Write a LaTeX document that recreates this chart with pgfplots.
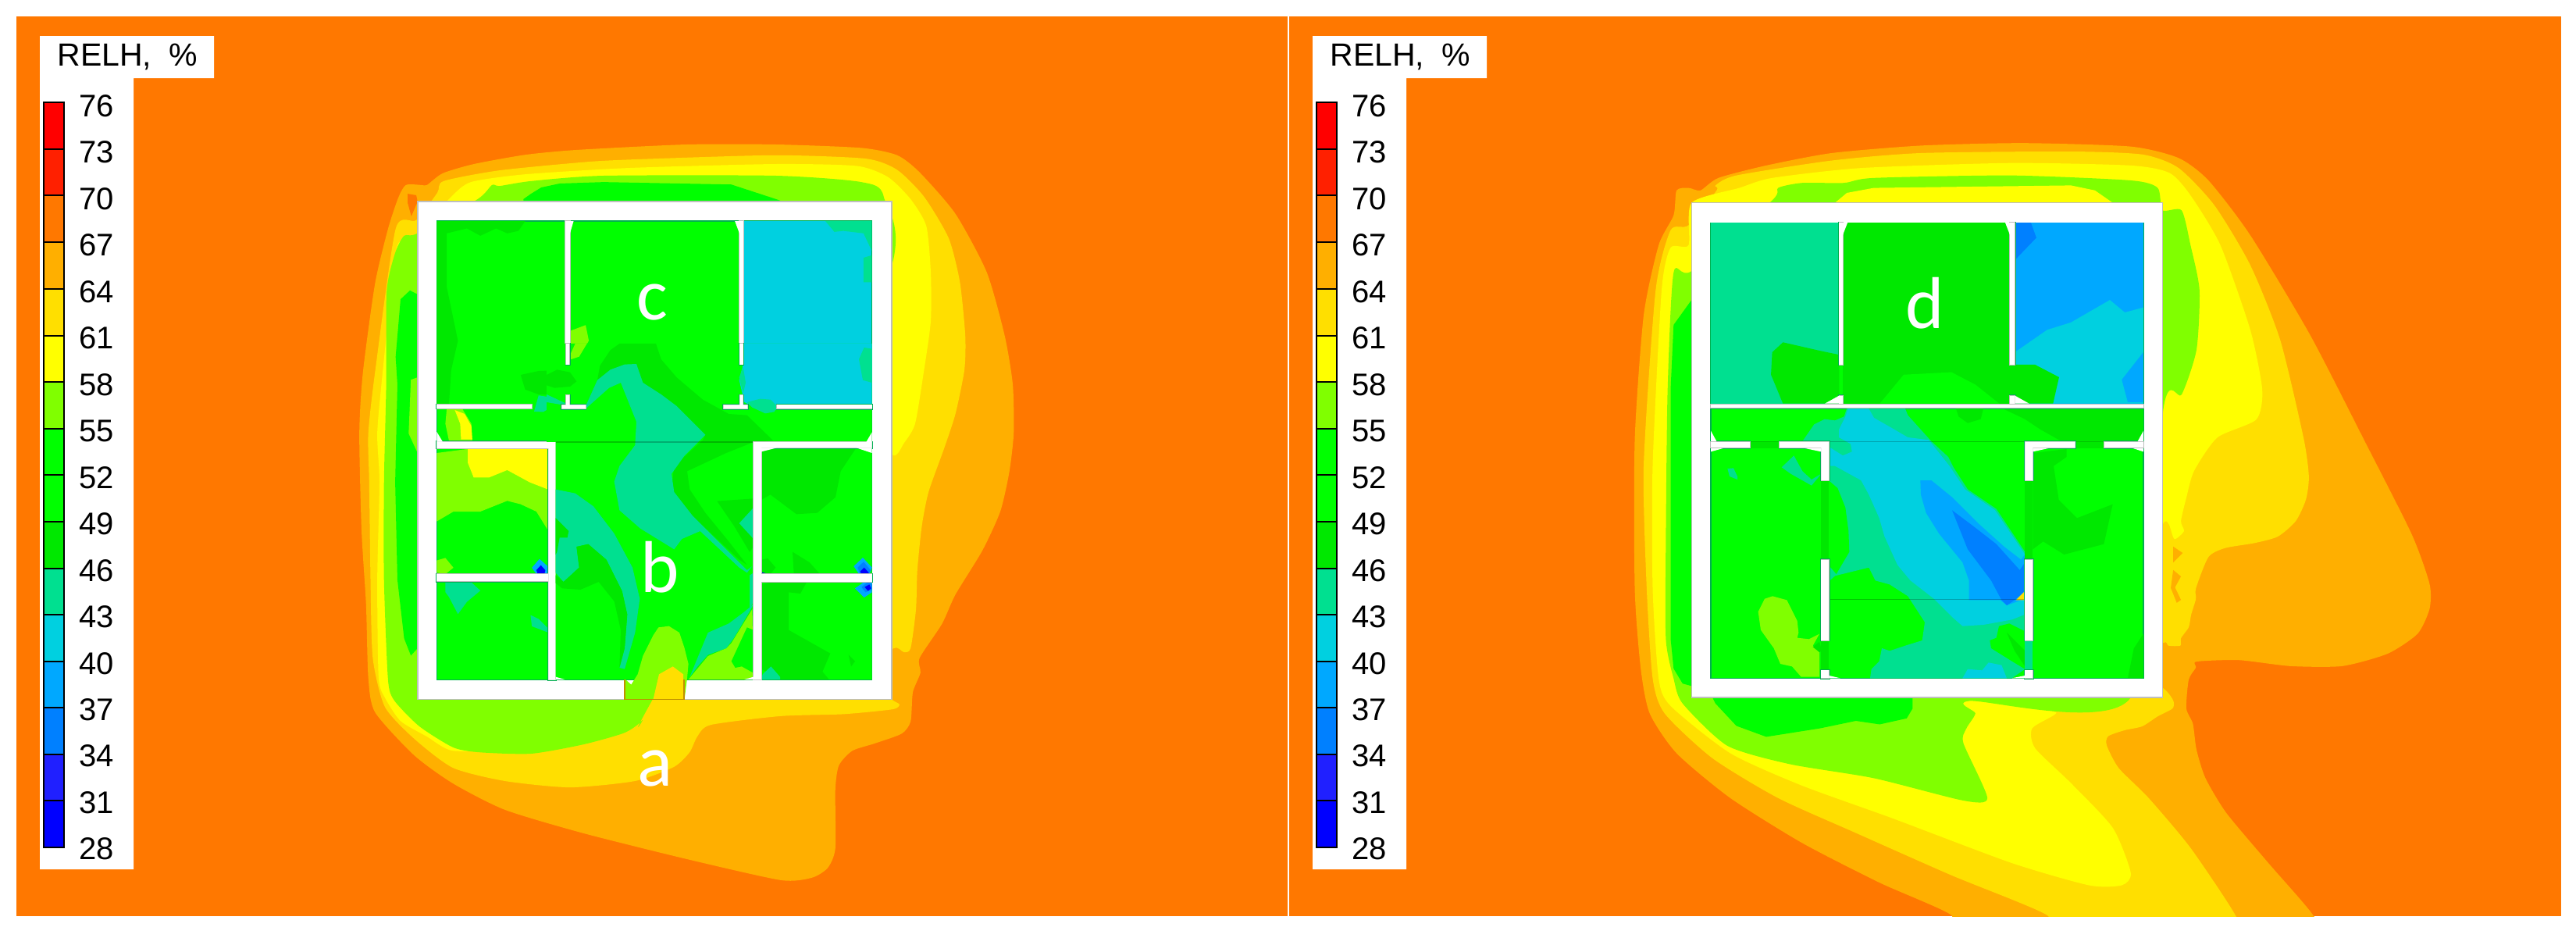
\documentclass[border=0pt]{standalone}
\usepackage{pgfplots}
\pgfplotsset{compat=1.18}
\usepackage{fontspec}
\setmainfont{Liberation Sans}
\newfontfamily\lab{Carlito}
\definecolor{c28}{HTML}{0000FF}
\definecolor{c31}{HTML}{2020FF}
\definecolor{c34}{HTML}{0080FF}
\definecolor{c37}{HTML}{00A8FF}
\definecolor{c40}{HTML}{00D0E0}
\definecolor{c43}{HTML}{00E090}
\definecolor{c46}{HTML}{00E800}
\definecolor{c52}{HTML}{00FF00}
\definecolor{c55}{HTML}{80FF00}
\definecolor{c58}{HTML}{FFFF00}
\definecolor{c61}{HTML}{FFDF00}
\definecolor{c64}{HTML}{FFAF00}
\definecolor{c67}{HTML}{FF7800}
\definecolor{c70}{HTML}{FF2000}
\definecolor{c73}{HTML}{FF0000}
\definecolor{wallgrey}{HTML}{BEBEBE}
\definecolor{roomedge}{HTML}{00B050}
\definecolor{doorline}{HTML}{C09000}
\newcommand\region[2]{\addplot[fill=#1,draw=none,forget plot] coordinates {#2} --cycle;}
\newcommand\sregion[2]{\addplot[fill=#1,draw=none,forget plot,smooth cycle,tension=.4] coordinates {#2};}
\newcommand\seam[1]{\addplot[draw=black,opacity=.22,line width=.8pt,forget plot] coordinates {#1};}
\newcommand\wallpass[1]{%
  \def\wall##1{\addplot[fill=white,draw=roomedge,line width=1.2pt,forget plot] coordinates {##1} --cycle;}#1%
  \def\wall##1{\addplot[fill=white,draw=wallgrey,line width=.8pt,forget plot] coordinates {##1} --cycle;}#1%
  \def\wall##1{\addplot[fill=white,draw=none,forget plot] coordinates {##1} --cycle;}#1}
\pgfplotsset{plain/.style={hide axis,scale only axis,anchor=south west,y dir=reverse,clip=true}}
\newcommand\cell[3]{\addplot[fill=#1,draw=black,line width=.6pt,forget plot] coordinates {(56,#2) (82,#2) (82,#3) (56,#3)} --cycle;}
\newcommand\legendaxis[1]{%
\begin{axis}[plain,at={(#1,0pt)},width=150pt,height=600pt,xmin=0,xmax=300,ymin=0,ymax=1200]
\region{white}{(51,46) (274,46) (274,100) (171,100) (171,1113) (51,1113)}
\cell{c73}{131}{191}\cell{c70}{191}{250}\cell{c67}{250}{310}\cell{c64}{310}{370}
\cell{c61}{370}{430}\cell{c58}{430}{489}\cell{c55}{489}{549}\cell{c52}{549}{608}
\cell{c52}{608}{668}\cell{c46}{668}{728}\cell{c43}{728}{787}\cell{c40}{787}{847}
\cell{c37}{847}{906}\cell{c34}{906}{966}\cell{c31}{966}{1025}\cell{c28}{1025}{1085}
\node[anchor=west,font=\fontsize{20.5pt}{24pt}\selectfont,inner sep=0pt] at (axis cs:73,73) {RELH,\ \ \%};
\foreach \v/\y in {76/136,73/195,70/255,67/314,64/374,61/433,58/493,55/552,52/612,49/671,46/731,43/790,40/850,37/909,34/968,31/1028,28/1087}{
\edef\tmp{\noexpand\node[anchor=west,font=\noexpand\fontsize{20pt}{24pt}\noexpand\selectfont,inner sep=0pt] at (axis cs:101,\y) {\v};}\tmp}
\end{axis}}
\newcommand\wallsL{%
\wall{(530,165) (540,165) (540,460) (530,460)}
\wall{(918,165) (927,165) (927,460) (918,460)}
\wall{(243,541) (455,541) (455,549) (243,549)}
\wall{(243,617) (508,617) (508,1105) (492,1105) (492,630) (243,630)}
\wall{(243,888) (492,888) (492,903) (243,903)}}
\newcommand\wallsB{%
\wall{(75,0) (88,0) (88,80) (75,80)}
\wall{(75,198) (88,198) (88,235) (150,235) (150,250) (58,250) (58,235) (75,235)}
\wall{(742,0) (755,0) (755,80) (742,80)}
\wall{(742,198) (755,198) (755,235) (772,235) (772,250) (680,250) (680,235) (742,235)}
\wall{(885,235) (1250,235) (1250,250) (885,250)}
\wall{(795,378) (1250,378) (1250,400) (825,400) (825,1290) (795,1290)}
\wall{(825,885) (1250,885) (1250,915) (825,915)}}
\newcommand\wallsR{%
\wall{(412,165) (418,165) (418,450) (412,450)}
\wall{(698,165) (706,165) (706,450) (698,450)}
\wall{(412,512) (418,512) (418,528) (412,528)}
\wall{(698,512) (706,512) (706,528) (698,528)}
\wall{(197,530) (921,530) (921,537) (197,537)}}
\newcommand\wallsA{%
\wall{(33,197) (183,197) (183,220) (33,220)}
\wall{(297,197) (487,197) (487,345) (457,345) (457,220) (297,220)}
\wall{(457,650) (487,650) (487,960) (457,960)}
\wall{(457,1075) (487,1075) (487,1105) (457,1105)}
\wall{(1240,197) (1433,197) (1433,220) (1270,220) (1270,345) (1240,345)}
\wall{(1545,197) (1695,197) (1695,220) (1545,220)}
\wall{(1240,650) (1270,650) (1270,960) (1240,960)}
\wall{(1240,1075) (1270,1075) (1270,1105) (1240,1105)}}
\begin{document}
\begin{tikzpicture}
\path[use as bounding box] (0pt,0pt) rectangle (1649.5pt,600pt);
% panels
\begin{axis}[plain,at={(0pt,0pt)},width=1649.5pt,height=600pt,xmin=0,xmax=3299,ymin=0,ymax=1200]
\region{c67}{(21,21) (1649,21) (1649,1173) (21,1173)}
\region{c67}{(1651,21) (3280,21) (3280,1173) (1651,1173)}
\end{axis}
% left panel field
\begin{axis}[plain,at={(210pt,20pt)},width=450pt,height=490pt,xmin=0,xmax=1568,ymin=0,ymax=1568]
\sregion{c64}{(157,117) (174,91) (209,91) (221,91) (256,67) (326,48) (441,29) (557,19) (800,8) (1000,8) (1190,15) (1270,30) (1320,65) (1400,150) (1470,270) (1510,400) (1528,500) (1530,600) (1520,680) (1500,760) (1460,840) (1400,930) (1370,990) (1320,1060) (1322,1090) (1305,1130) (1300,1190) (1280,1215) (1220,1235) (1170,1250) (1140,1280) (1132,1330) (1132,1450) (1115,1490) (1080,1510) (1010,1515) (801,1472) (570,1419) (395,1371) (279,1317) (192,1259) (105,1171) (90,1100) (85,950) (75,800) (70,600) (78,475) (105,293) (134,181)}
\region{c67}{(178,109) (197,112) (200,125) (186,155) (178,128)}
\sregion{c61}{(244,107) (258,83) (383,61) (587,43) (732,37) (1000,30) (1200,37) (1270,60) (1330,115) (1385,200) (1410,290) (1422,400) (1420,470) (1400,560) (1375,630) (1340,720) (1325,790) (1315,880) (1312,960) (1300,1040) (1285,1048) (1262,1040) (1200,1100) (1258,1145) (1275,1155) (1260,1165) (1150,1175) (1010,1179) (854,1197) (824,1221) (807,1253) (772,1283) (685,1312) (540,1325) (395,1312) (279,1285) (192,1225) (127,1160) (100,1060) (95,900) (92,700) (90,600) (105,475) (151,181) (197,163)}
\sregion{c58}{(273,117) (319,85) (441,69) (674,56) (1000,48) (1180,52) (1250,75) (1300,120) (1335,175) (1345,270) (1345,370) (1330,470) (1310,580) (1285,620) (1262,645) (1200,600) (1000,1100) (725,1145) (400,1240) (279,1250) (221,1221) (162,1189) (127,1141) (113,1099) (110,900) (115,700) (110,600) (122,475) (151,229) (171,203) (200,190)}
\sregion{c55}{(334,120) (366,91) (383,93) (453,83) (615,72) (1000,72) (1190,85) (1240,115) (1240,300) (723,1147) (702,1187) (662,1213) (570,1237) (453,1256) (336,1253) (279,1243) (204,1200) (148,1147) (134,1104) (125,900) (125,700) (130,500) (131,309) (150,230) (170,195) (200,190)}
\region{c52}{(436,120) (453,109) (476,96) (517,88) (615,85) (900,90) (1000,120) (1015,125) (1015,200) (436,200)}
\region{c52}{(200,315) (183,307) (162,325) (157,379) (151,443) (155,500) (150,700) (155,900) (170,1020) (185,1055) (200,1040)}
\region{c55}{(200,485) (185,490) (180,600) (200,640)}
% building
\addplot[fill=white,draw=wallgrey,line width=.7pt] coordinates {(200,125) (1258,125) (1258,1145) (200,1145)} --cycle;
\addplot[fill=c52,draw=roomedge,line width=.7pt] coordinates {(243,165) (1213,165) (1213,1105) (243,1105)} --cycle;
\region{c40}{(927,165) (1213,165) (1213,540) (927,540)}
\region{c46}{(243,165) (440,165) (425,185) (400,190) (375,180) (340,195) (310,180) (265,190) (265,300) (290,410) (275,470) (270,540) (243,540)}
\region{c55}{(540,390) (575,378) (582,410) (560,445) (540,445)}
\region{c46}{(430,480) (470,472) (530,470) (555,490) (550,510) (530,522) (470,520) (440,510)}
\region{c43}{(460,555) (470,522) (525,530) (522,545) (495,548) (480,556)}
\region{c43}{(1110,165) (1213,165) (1213,225) (1195,190) (1150,185) (1130,187)}
\region{c43}{(1195,240) (1213,235) (1213,290) (1195,290)}
% lower left rooms
\region{c55}{(243,640) (310,632) (492,632) (492,800) (465,760) (430,745) (400,738) (340,760) (280,760) (243,780)}
\region{c58}{(312,632) (492,632) (492,715) (450,700) (400,675) (360,690) (325,690) (312,660)}
\region{c55}{(243,860) (262,855) (280,875) (262,888) (243,885)}
\region{c37}{(455,875) (472,857) (490,872) (490,888) (465,888)}
\region{c28}{(465,880) (475,870) (485,880) (483,888) (468,888)}
\region{c43}{(262,905) (320,905) (340,922) (310,945) (290,970) (270,935) (262,925)}
\region{c43}{(452,972) (470,980) (492,1000) (492,1008) (455,995)}
% corridor
\region{c55}{(265,550) (300,550) (320,580) (322,615) (270,615) (262,580)}
\region{c58}{(283,552) (305,560) (320,585) (322,612) (297,612) (295,580)}
\wallpass{\wallsL}
\region{white}{(540,165) (548,165) (540,190)}
\region{white}{(918,165) (908,165) (918,190)}
\region{white}{(243,597) (256,617) (243,617)}
\node[text=white,font=\lab\fontsize{47pt}{50pt}\selectfont,inner sep=0pt] at (axis cs:723,332) {c};
\node[text=white,font=\lab\fontsize{47pt}{50pt}\selectfont,inner sep=0pt] at (axis cs:730,1286) {a};
\end{axis}
% left panel, central and right part of the building
\begin{axis}[plain,at={(350pt,150pt)},width=220pt,height=230pt,xmin=0,xmax=1320,ymin=0,ymax=1380]
\region{c52}{(0,0) (1250,0) (1250,1290) (35,1290) (35,378) (0,378)}
\region{c40}{(755,0) (1250,0) (1250,238) (885,238) (880,255) (840,265) (790,240) (760,225) (740,140) (755,80)}
\region{c43}{(770,225) (820,212) (860,215) (885,240) (875,262) (840,268) (790,245)}
\region{c43}{(740,130) (755,90) (765,150) (755,190)}
\region{c43}{(1200,60) (1220,15) (1250,20) (1250,150) (1215,140)}
\region{c55}{(85,55) (110,0) (155,0) (125,50) (95,60)}
\region{c46}{(0,120) (40,100) (90,110) (115,145) (90,165) (30,170) (0,160)}
\region{c43}{(0,195) (75,230) (60,235) (0,225)}
\region{c46}{(150,240) (195,140) (205,85) (245,25) (280,0) (420,0) (440,60) (500,130) (600,215) (700,270) (770,275) (870,372) (795,378) (690,420) (540,490) (550,560) (610,650) (700,760) (770,850) (740,830) (590,690) (520,630) (480,560) (490,470) (600,370) (610,350) (580,330) (470,230) (370,150) (345,80) (300,80) (245,110) (190,190)}
\region{c46}{(655,605) (795,595) (795,780) (780,800) (720,700)}
\region{c43}{(740,690) (795,630) (795,750)}
\region{c43}{(150,240) (195,140) (245,100) (300,80) (345,78) (370,150) (440,195) (500,240) (610,350) (530,430) (480,500) (490,570) (560,660) (740,840) (770,870) (790,855) (770,880) (740,860) (590,720) (520,750) (490,790) (360,710) (280,640) (260,530) (280,470) (340,390) (345,300) (285,150) (240,170) (150,250)}
\region{c43}{(35,560) (110,575) (180,625) (260,730) (330,860) (358,980) (340,1110) (300,1250) (280,1245) (300,1170) (310,1040) (290,950) (230,830) (160,770) (115,780) (125,860) (65,915) (35,880)}
\region{c46}{(35,670) (85,720) (80,745) (50,745) (40,800) (35,810)}
\region{c46}{(35,890) (65,915) (125,860) (115,780) (160,770) (230,830) (290,950) (310,1040) (300,1170) (280,1245) (285,1100) (260,990) (200,915) (130,945) (60,940) (35,920)}
\region{c55}{(300,1365) (303,1290) (325,1310) (350,1270) (370,1200) (410,1120) (430,1090) (470,1085) (510,1110) (530,1170) (545,1230) (540,1285) (530,1365)}
\region{c61}{(410,1365) (432,1270) (485,1240) (525,1270) (528,1365)}
\region{c55}{(545,1290) (620,1200) (690,1170) (710,1150) (790,1020) (795,1290)}
\region{c52}{(710,1220) (770,1090) (795,1100) (795,1265) (750,1240) (725,1245)}
\region{c43}{(550,1280) (620,1110) (700,1075) (760,1030) (795,1000) (785,1020) (720,1130) (690,1170) (620,1195) (580,1240)}
\region{c43}{(780,890) (795,880) (795,990) (780,1020)}
% right rooms
\region{c46}{(825,410) (885,400) (1190,400) (1130,490) (1110,590) (1040,650) (960,655) (900,610) (860,580) (825,600)}
\region{c46}{(945,800) (1010,840) (1050,885) (950,885)}
\region{c46}{(825,830) (850,825) (880,860) (860,885) (825,885)}
\region{c37}{(1180,855) (1215,822) (1250,860) (1240,885) (1200,885)}
\region{c34}{(1195,860) (1218,838) (1245,870) (1238,885) (1205,885)}
\region{c28}{(1205,875) (1220,860) (1238,880) (1235,885) (1210,885)}
\region{c28}{(825,878) (855,885) (825,885)}
\region{c46}{(825,925) (870,915) (1000,915) (975,960) (930,955) (930,1100) (1090,1190) (1060,1260) (1085,1290) (900,1290) (825,1250)}
\region{c46}{(1160,1195) (1185,1220) (1170,1240)}
\region{c43}{(825,1290) (830,1270) (862,1240) (897,1280) (897,1290)}
\region{c37}{(1185,940) (1220,915) (1250,915) (1250,955) (1220,975)}
\region{c34}{(1210,935) (1235,915) (1250,925) (1250,945) (1225,955)}
\region{c28}{(1222,935) (1240,925) (1247,940) (1235,950)}
\seam{(35,378) (795,378)}
\addplot[draw=doorline,line width=.8pt,forget plot] coordinates {(300,1290) (300,1366) (528,1366) (528,1290)};
\wallpass{\wallsB}
\region{white}{(1250,340) (1228,378) (1250,378)}
\region{white}{(825,400) (885,400) (825,415)}
\region{white}{(1250,400) (1190,400) (1250,420)}
\region{white}{(35,1290) (70,1290) (35,1280)}
\region{white}{(795,1290) (760,1290) (795,1280)}
\node[text=white,font=\lab\fontsize{47pt}{50pt}\selectfont,inner sep=0pt] at (axis cs:435,858) {b};
\end{axis}
% right panel field
\begin{axis}[plain,at={(1020pt,13.5pt)},width=600pt,height=496.5pt,xmin=0,xmax=1568,ymin=0,ymax=1557]
\sregion{c64}{(140,100) (160,95) (180,100) (210,75) (290,50) (400,25) (550,10) (720,5) (900,12) (980,35) (1030,80) (1100,190) (1200,390) (1290,600) (1370,790) (1400,890) (1400,940) (1380,990) (1330,1030) (1254,1055) (1167,1055) (1081,1043) (1010,1046) (1009,1058) (997,1082) (993,1140) (1004,1171) (1010,1223) (1025,1280) (1060,1350) (1130,1450) (1205,1555) (1210,1600) (600,1600) (600,1555) (480,1490) (350,1410) (230,1320) (140,1230) (95,1150) (80,1060) (70,900) (70,600) (85,350) (110,210) (135,150)}
\sregion{c61}{(205,90) (240,70) (400,40) (550,25) (800,22) (920,28) (980,55) (1040,130) (1100,250) (1150,400) (1189,596) (1198,674) (1193,721) (1176,764) (1146,795) (1107,808) (1058,818) (1030,836) (1009,899) (1009,920) (1001,952) (997,977) (984,999) (983,1014) (963,1014) (955,1008) (900,1050) (956,1101) (971,1124) (970,1140) (945,1156) (919,1176) (889,1184) (862,1196) (860,1215) (880,1260) (930,1320) (1000,1420) (1075,1555) (1080,1600) (760,1600) (760,1555) (600,1475) (440,1390) (310,1320) (200,1240) (120,1150) (100,1080) (90,900) (85,650) (105,300) (130,180) (160,170) (207,100)}
\region{c64}{(971,815) (987,828) (971,847)}
\region{c64}{(971,862) (984,875) (974,897) (984,922) (977,928) (967,898)}
\sregion{c58}{(245,95) (300,75) (450,55) (700,45) (900,50) (965,65) (1000,110) (1050,210) (1100,380) (1120,500) (1110,560) (1045,596) (1006,663) (993,717) (984,764) (989,784) (973,800) (964,771) (953,771) (900,900) (770,1125) (775,1150) (735,1180) (740,1220) (800,1290) (870,1380) (900,1470) (885,1495) (830,1495) (700,1450) (500,1360) (350,1295) (230,1230) (130,1135) (110,1080) (100,900) (100,650) (115,300) (130,215) (160,210) (165,125)}
\sregion{c55}{(135,265) (165,262) (300,120) (310,95) (350,85) (420,85) (470,75) (700,70) (900,80) (945,95) (953,140) (985,140) (1000,210) (1015,300) (1010,420) (985,510) (955,535) (900,1118) (630,1125) (640,1150) (625,1180) (620,1210) (660,1320) (620,1325) (470,1280) (330,1252) (225,1215) (150,1130) (135,1080) (122,1000) (122,800) (125,500)}
\region{c58}{(405,125) (425,105) (470,95) (800,90) (840,100) (870,125)}
\region{c52}{(200,1118) (535,1118) (535,1140) (525,1160) (480,1172) (440,1165) (380,1180) (290,1197) (240,1175) (205,1130)}
\region{c52}{(165,320) (135,370) (130,500) (130,800) (130,1000) (135,1060) (150,1090) (165,1095)}
% building
\addplot[fill=white,draw=wallgrey,line width=.7pt] coordinates {(165,125) (953,125) (953,1118) (165,1118)} --cycle;
\addplot[fill=c52,draw=roomedge,line width=.7pt] coordinates {(197,165) (921,165) (921,530) (197,530)} --cycle;
% top rooms
\region{c43}{(197,165) (412,165) (412,528) (197,528)}
\region{c46}{(412,430) (380,422) (318,405) (300,425) (298,470) (318,528) (412,528)}
\region{c46}{(418,165) (698,165) (698,528) (418,528)}
\region{c52}{(480,528) (520,470) (600,465) (640,490) (680,528)}
\region{c37}{(706,165) (921,165) (921,528) (706,528)}
\region{c34}{(706,165) (733,165) (742,195) (706,240)}
\region{c40}{(706,425) (760,380) (800,365) (865,320) (890,345) (921,335) (921,528) (706,528)}
\region{c37}{(885,480) (921,425) (921,525) (895,525)}
\region{c46}{(698,450) (740,450) (780,475) (770,528) (698,528)}
\wallpass{\wallsR}
\region{white}{(388,528) (412,512) (412,528)}
\region{white}{(706,512) (730,528) (706,528)}
\region{white}{(418,165) (426,165) (418,190)}
\region{white}{(698,165) (690,165) (698,190)}
\node[text=white,font=\lab\fontsize{47pt}{50pt}\selectfont,inner sep=0pt] at (axis cs:555,327) {d};
\end{axis}
% right panel, corridor, hall and lower rooms
\begin{axis}[plain,at={(1090pt,150pt)},width=283.33pt,height=200pt,xmin=0,xmax=1700,ymin=0,ymax=1200]
\addplot[fill=c52,draw=roomedge,line width=.7pt] coordinates {(33,70) (1695,70) (1695,1105) (33,1105)} --cycle;
\region{c46}{(975,70) (1080,70) (1070,110) (1020,125) (985,100)}
\region{c46}{(1160,72) (1695,72) (1695,195) (1380,195) (1300,150) (1240,110)}
\region{c43}{(385,195) (430,130) (470,110) (510,115) (545,100) (555,70) (780,70) (790,95) (880,195) (945,255) (965,295) (1020,380) (1130,455) (1240,620) (1240,1070) (1190,1105) (645,1105) (650,1070) (680,1040) (690,990) (720,1000) (780,980) (845,960) (855,890) (790,790) (720,745) (665,730) (640,680) (510,712) (485,735) (485,195)}
\region{c52}{(485,345) (520,375) (550,450) (562,540) (565,620) (515,705) (485,670)}
\region{c52}{(1105,960) (1130,950) (1140,905) (1180,895) (1240,925) (1240,1070) (1190,1040) (1110,990)}
\region{c46}{(1170,930) (1240,1000) (1240,1060) (1200,1000)}
\region{c40}{(1000,1105) (1020,1070) (1075,1075) (1100,1045) (1150,1055) (1170,1105)}
\region{c40}{(560,70) (640,70) (660,105) (730,145) (790,180) (870,190) (910,240) (950,290) (1010,380) (1125,460) (1240,630) (1240,860) (1190,880) (1080,900) (1000,905) (960,870) (890,800) (800,730) (750,670) (700,560) (680,490) (640,400) (610,345) (510,290) (485,290) (485,215) (540,250) (575,235) (570,205) (525,180) (525,150) (550,100)}
\region{c37}{(838,345) (880,345) (960,410) (1060,510) (1160,600) (1225,650) (1240,630) (1240,800) (1170,825) (1145,805) (1025,805) (1025,730) (1000,660) (910,550) (860,470) (840,400)}
\region{c34}{(960,460) (1040,520) (1130,590) (1220,690) (1240,660) (1240,770) (1200,805) (1170,825) (1150,805) (1110,730) (1020,610)}
\region{c61}{(1205,805) (1240,770) (1240,805)}
% left room
\region{c55}{(240,800) (270,790) (325,805) (365,885) (370,930) (365,950) (410,955) (450,935) (425,980) (450,1005) (450,1100) (380,1100) (345,1060) (300,1050) (275,990) (225,920) (215,850)}
\region{c46}{(425,985) (450,965) (460,1000) (450,1005)}
\region{c43}{(97,300) (120,298) (135,330) (135,342) (105,330)}
\region{c43}{(305,295) (352,250) (385,310) (420,342) (457,320) (420,365) (340,320)}
% right room
\region{c46}{(1270,240) (1400,225) (1400,255) (1350,290) (1370,420) (1440,490) (1577,437) (1543,590) (1390,630) (1310,580) (1270,610)}
\region{c46}{(1695,934) (1658,991) (1635,1105) (1695,1105)}
% doors
\region{c46}{(457,345) (487,345) (487,650) (457,650)}
\region{c46}{(457,960) (487,960) (487,1075) (457,1075)}
\region{c46}{(1240,345) (1270,345) (1270,650) (1240,650)}
\region{c43}{(1240,960) (1270,960) (1270,1075) (1240,1075)}
\region{c46}{(183,197) (297,197) (297,222) (183,222)}
\region{c46}{(1433,197) (1545,197) (1545,222) (1433,222)}
\seam{(487,803) (1240,803)}
\seam{(33,196) (1695,196)}
\wallpass{\wallsA}
\region{white}{(33,155) (55,195) (33,195)}
\region{white}{(1695,155) (1673,195) (1695,195)}
\region{white}{(33,222) (80,222) (33,235)}
\region{white}{(395,222) (457,222) (457,235)}
\region{white}{(1270,222) (1330,222) (1270,235)}
\region{white}{(1655,222) (1695,222) (1695,235)}
\region{white}{(487,1105) (530,1105) (487,1095)}
\region{white}{(1240,1105) (1190,1105) (1240,1095)}
\end{axis}
\legendaxis{0pt}
\legendaxis{815pt}
\end{tikzpicture}
\end{document}
